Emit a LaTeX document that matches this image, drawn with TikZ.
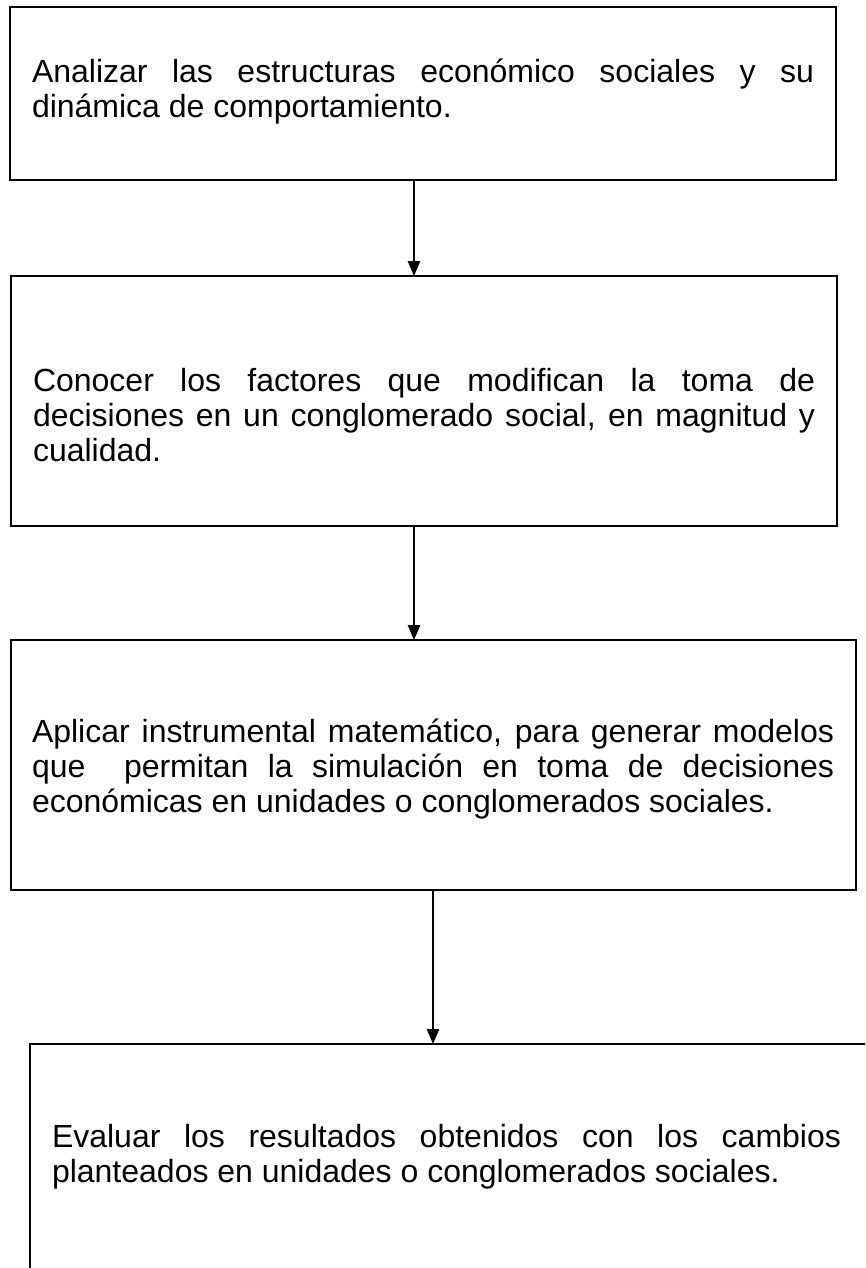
\documentclass[tikz,border=0pt]{standalone}
\usepackage{fontspec}
\setmainfont{Liberation Sans}
\usetikzlibrary{arrows.meta}
\begin{document}
\begin{tikzpicture}[x=1pt,y=-1pt,
  boxframe/.style={draw=black,line width=1.6pt,anchor=north west,inner sep=0pt,outer sep=0pt},
  boxtext/.style={anchor=north west,inner sep=0pt,outer sep=0pt,align=justify,
    font=\fontsize{32}{35}\selectfont,
    execute at begin node={\parindent0pt\tolerance10000\pretolerance-1\hyphenpenalty10000}},
  link/.style={line width=1.1pt,-{Triangle[length=15pt,width=12.5pt]}}]
\clip (0,0) rectangle (865,1268);
\fill[white] (0,0) rectangle (865,1268);
% boxes
\node[boxframe,minimum width=826pt,minimum height=173pt] (b1) at (10,7) {};
\node[boxframe,minimum width=826pt,minimum height=250pt] (b2) at (11,276) {};
\node[boxframe,minimum width=845pt,minimum height=250pt] (b3) at (11,640) {};
\node[boxframe,minimum width=840pt,minimum height=260pt] (b4) at (30,1044) {};
% texts
\node[boxtext,text width=782pt] (t1) at (32,53) {\rule{0pt}{30pt}Analizar las estructuras económico sociales y su\linebreak dinámica de comportamiento.};
\node[boxtext,text width=782pt] (t2) at (33,361) {\rule{0pt}{30pt}Conocer los factores que modifican la toma de\linebreak decisiones en un conglomerado social, en magnitud y\linebreak cualidad.};
\node[boxtext,text width=802pt] (t3) at (32,712) {\rule{0pt}{30pt}Aplicar instrumental matemático, para generar modelos\linebreak que \ permitan la simulación en toma de decisiones\linebreak económicas en unidades o conglomerados sociales.};
\node[boxtext,text width=789pt] (t4) at (52,1117) {\rule{0pt}{30pt}Evaluar los resultados obtenidos con los cambios\linebreak planteados en unidades o conglomerados sociales.};
% connectors
\coordinate (xa) at (414,0);
\coordinate (xb) at (433,0);
\draw[link] (b1.south -| xa) -- (b2.north -| xa);
\draw[link] (b2.south -| xa) -- (b3.north -| xa);
\draw[link] (b3.south -| xb) -- (b4.north -| xb);
\end{tikzpicture}
\end{document}
